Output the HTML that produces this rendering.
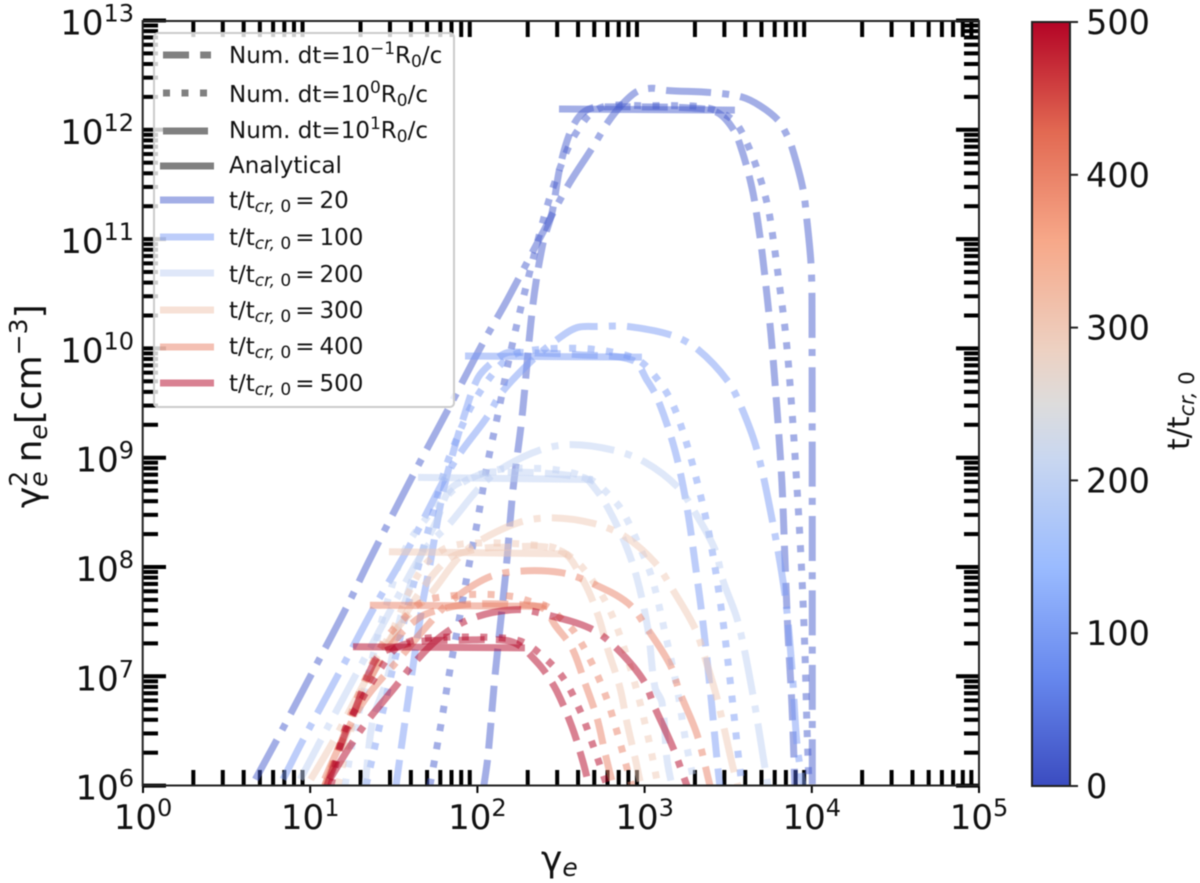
<!DOCTYPE html>
<html lang="en">
<head>
<meta charset="utf-8">
<title>Electron spectrum chart</title>
<style>
html,body{margin:0;padding:0;background:#fff;}
svg{display:block;font-family:"DejaVu Sans","Liberation Sans",sans-serif;filter:blur(0.5px);}
</style>
</head>
<body>
<svg id="chart" width="1200" height="883" viewBox="0 0 1200 883" xmlns="http://www.w3.org/2000/svg">
  <defs>
    <clipPath id="plot-clip"><rect x="143" y="21" width="836" height="764.5"/></clipPath>
    <linearGradient id="coolwarm-gradient" x1="0" y1="1" x2="0" y2="0">
      <stop offset="0" stop-color="#3b4cc0"/>
      <stop offset="0.143" stop-color="#6788ee"/>
      <stop offset="0.286" stop-color="#9abbff"/>
      <stop offset="0.429" stop-color="#c9d7f0"/>
      <stop offset="0.5" stop-color="#dddcdc"/>
      <stop offset="0.571" stop-color="#edd1c2"/>
      <stop offset="0.714" stop-color="#f7a889"/>
      <stop offset="0.857" stop-color="#e26952"/>
      <stop offset="1" stop-color="#b40426"/>
    </linearGradient>
  </defs>
  <g id="ticks-layer"></g>
  <g id="series-layer" clip-path="url(#plot-clip)"></g>
  <rect x="142.7" y="21" width="836.3" height="764.5" fill="none" stroke="#222" stroke-width="2"/>

  <g>
    <rect x="154" y="33" width="300" height="374" rx="4" fill="#fff" fill-opacity="0.8" stroke="#ccc" stroke-width="2"/>
    <g fill="none" stroke-width="7" stroke="#808080">
      <line x1="163" x2="211" y1="55" y2="55" stroke-dasharray="26 11.2"/>
      <line x1="163" x2="211" y1="93" y2="93" stroke-dasharray="7 11.5"/>
      <line x1="163" x2="208" y1="131" y2="131"/>
      <line x1="160" x2="214" y1="166" y2="166"/>
      <line x1="160" x2="214" y1="200" y2="200" stroke="#475dcd" stroke-opacity="0.5"/>
      <line x1="160" x2="214" y1="237" y2="237" stroke="#7b9cf5" stroke-opacity="0.5"/>
      <line x1="160" x2="214" y1="273" y2="273" stroke="#bfd0f3" stroke-opacity="0.5"/>
      <line x1="160" x2="214" y1="310" y2="310" stroke="#f0c3ad" stroke-opacity="0.5"/>
      <line x1="160" x2="214" y1="347" y2="347" stroke="#ea8268" stroke-opacity="0.5"/>
      <line x1="160" x2="214" y1="383" y2="383" stroke="#b40426" stroke-opacity="0.5"/>
    </g>
    <g font-size="23" fill="#111">
      <text x="229" y="63">Num. dt=10<tspan font-size="17" dy="-9">−1</tspan><tspan dy="9">R</tspan><tspan font-size="17" dy="4">0</tspan><tspan dy="-4">/c</tspan></text>
      <text x="229" y="102">Num. dt=10<tspan font-size="17" dy="-9">0</tspan><tspan dy="9">R</tspan><tspan font-size="17" dy="4">0</tspan><tspan dy="-4">/c</tspan></text>
      <text x="229" y="138">Num. dt=10<tspan font-size="17" dy="-9">1</tspan><tspan dy="9">R</tspan><tspan font-size="17" dy="4">0</tspan><tspan dy="-4">/c</tspan></text>
      <text x="229" y="173">Analytical</text>
      <text x="229" y="208">t/t<tspan font-size="17" dy="4" font-style="italic">cr,</tspan><tspan font-size="17"> 0</tspan><tspan dy="-4" dx="4">=</tspan><tspan dx="5">20</tspan></text>
      <text x="229" y="245">t/t<tspan font-size="17" dy="4" font-style="italic">cr,</tspan><tspan font-size="17"> 0</tspan><tspan dy="-4" dx="4">=</tspan><tspan dx="5">100</tspan></text>
      <text x="229" y="282">t/t<tspan font-size="17" dy="4" font-style="italic">cr,</tspan><tspan font-size="17"> 0</tspan><tspan dy="-4" dx="4">=</tspan><tspan dx="5">200</tspan></text>
      <text x="229" y="318">t/t<tspan font-size="17" dy="4" font-style="italic">cr,</tspan><tspan font-size="17"> 0</tspan><tspan dy="-4" dx="4">=</tspan><tspan dx="5">300</tspan></text>
      <text x="229" y="354">t/t<tspan font-size="17" dy="4" font-style="italic">cr,</tspan><tspan font-size="17"> 0</tspan><tspan dy="-4" dx="4">=</tspan><tspan dx="5">400</tspan></text>
      <text x="229" y="391">t/t<tspan font-size="17" dy="4" font-style="italic">cr,</tspan><tspan font-size="17"> 0</tspan><tspan dy="-4" dx="4">=</tspan><tspan dx="5">500</tspan></text>
    </g>
  </g>

  <g id="labels-layer" font-size="34" fill="#111"></g>

  <text x="541" y="871" font-size="36" fill="#111">γ<tspan font-size="25" font-style="italic" dy="5">e</tspan></text>
  <text transform="translate(41,508) rotate(-90)" font-size="36" fill="#111">γ<tspan font-size="25" dy="-14">2</tspan><tspan font-size="25" font-style="italic" dy="20" dx="-16">e</tspan><tspan dy="-6" dx="9">n</tspan><tspan font-size="25" font-style="italic" dy="6">e</tspan><tspan dy="-6">[cm</tspan><tspan font-size="25" dy="-14">−3</tspan><tspan dy="14">]</tspan></text>

  <g>
    <rect x="1032" y="22" width="38" height="764" fill="url(#coolwarm-gradient)" stroke="#222" stroke-width="2"/>
    <g id="colorbar-ticks" font-size="33.5" fill="#111"></g>
    <text transform="translate(1189,450) rotate(-90)" font-size="30" fill="#111">t/t<tspan font-size="21" font-style="italic" dy="5">cr,</tspan><tspan font-size="21"> 0</tspan></text>
  </g>
</svg>

<script>
// Tick values and labels
const xTickExps = [0, 1, 2, 3, 4, 5];
const yTickExps = [6, 7, 8, 9, 10, 11, 12, 13];
const minorMultipliers = [2, 3, 4, 5, 6, 7, 8, 9];
const colorbarTicks = [0, 100, 200, 300, 400, 500];

// All curve values are log10(gamma_e) and log10(gamma_e^2 n_e)
// Dash-dot curves: numerical dt = 10 R0/c
const g20dd = [0.652,0.801,1.011,1.220,1.357,1.615,1.824,2.033,2.177,2.374,2.542,2.685,2.781,2.864,2.954,3.044,3.134,3.403,3.582,3.690,3.797,3.845,3.881,3.947,3.971,3.995,4.001,4.003];
const n20dd = [6.00,6.42,7.03,7.64,8.07,8.84,9.44,10.05,10.44,11.01,11.49,11.83,12.07,12.23,12.35,12.38,12.36,12.34,12.30,12.22,12.09,11.97,11.84,11.46,11.17,10.78,10.44,6.00];
const g100dd = [0.819,0.951,1.166,1.375,1.597,1.794,1.896,2.057,2.147,2.326,2.476,2.595,2.721,2.900,3.163,3.319,3.498,3.582,3.672,3.767,3.839,3.881,3.911,3.947];
const n100dd = [6.00,6.40,7.01,7.61,8.20,8.78,9.04,9.37,9.60,9.89,10.08,10.19,10.20,10.20,10.12,9.99,9.70,9.45,9.07,8.40,7.75,7.08,6.39,6.00];
const g200dd = [0.921,1.058,1.268,1.525,1.686,1.836,2.003,2.135,2.374,2.565,2.811,3.002,3.199,3.301,3.421,3.468,3.558,3.648,3.720,3.738];
const n200dd = [6.00,6.40,7.00,7.73,8.16,8.40,8.71,8.89,9.07,9.12,9.07,8.96,8.73,8.50,8.16,7.88,7.50,6.83,6.16,6.00];
const g300dd = [0.981,1.136,1.357,1.537,1.728,1.878,2.003,2.254,2.452,2.691,2.882,3.062,3.169,3.301,3.361,3.433,3.528,3.558];
const n300dd = [6.00,6.40,7.03,7.47,7.77,8.07,8.23,8.41,8.45,8.40,8.28,8.04,7.79,7.44,7.17,6.80,6.17,6.00];
const g400dd = [1.070,1.178,1.328,1.555,1.704,1.836,2.057,2.237,2.494,2.673,2.900,3.014,3.151,3.211,3.313,3.391];
const n400dd = [6.00,6.37,6.79,7.20,7.47,7.68,7.90,7.96,7.95,7.86,7.67,7.44,7.11,6.85,6.47,6.00];
const g500dd = [1.094,1.238,1.346,1.507,1.627,1.794,1.985,2.237,2.422,2.673,2.817,2.990,3.062,3.169,3.253];
const n500dd = [6.00,6.36,6.60,6.90,7.13,7.38,7.54,7.61,7.56,7.44,7.28,6.97,6.71,6.35,6.00];

// Dotted curves: numerical dt = 1 R0/c
const g20dot = [1.716,1.782,1.836,1.896,1.955,1.997,2.057,2.123,2.189,2.266,2.404,2.470,2.553,2.607,2.679,2.781,3.002,3.223,3.337,3.439,3.534,3.594,3.678,3.738,3.773,3.803,3.845,3.881,3.917,3.941,3.959,3.971,3.983];
const n20dot = [6.00,6.56,7.06,7.56,8.06,8.39,8.92,9.40,9.90,10.41,11.23,11.55,11.87,12.01,12.15,12.22,12.22,12.22,12.21,12.17,12.08,11.94,11.62,11.29,10.96,10.62,10.11,9.44,8.59,7.91,7.22,6.55,6.00];
const g100dot = [1.334,1.489,1.597,1.716,1.806,1.878,1.967,2.093,2.183,2.272,2.482,2.703,2.924,3.014,3.145,3.229,3.319,3.391,3.462,3.516,3.564,3.582];
const n100dot = [6.00,7.04,7.72,8.39,8.89,9.18,9.48,9.77,9.91,9.97,10.00,9.99,9.92,9.83,9.56,9.24,8.75,8.26,7.58,6.90,6.23,6.00];
const g200dot = [1.208,1.250,1.310,1.369,1.447,1.567,1.686,1.866,1.967,2.063,2.177,2.392,2.506,2.613,2.709,2.793,2.864,2.960,3.044,3.122,3.193,3.247,3.301];
const n200dot = [6.00,6.37,6.79,7.15,7.61,8.16,8.43,8.72,8.82,8.87,8.90,8.90,8.88,8.84,8.77,8.65,8.52,8.22,7.90,7.40,6.90,6.40,6.00];
const g300dot = [1.166,1.268,1.357,1.495,1.597,1.686,1.794,1.908,2.123,2.344,2.452,2.542,2.631,2.757,2.846,2.948,3.026,3.080];
const n300dot = [6.00,6.65,7.06,7.43,7.79,8.02,8.16,8.21,8.22,8.20,8.18,8.11,7.99,7.71,7.40,6.90,6.41,6.00];
const g400dot = [1.088,1.208,1.328,1.447,1.567,1.656,1.764,1.985,2.213,2.326,2.416,2.506,2.583,2.691,2.775,2.841,2.900,2.924];
const n400dot = [6.00,6.51,6.97,7.33,7.54,7.67,7.72,7.75,7.73,7.68,7.64,7.52,7.40,7.10,6.79,6.46,6.13,6.00];
const g500dot = [1.124,1.208,1.316,1.429,1.507,1.597,1.704,1.926,2.153,2.260,2.356,2.506,2.613,2.691,2.775];
const n500dot = [6.00,6.51,6.81,7.09,7.25,7.32,7.35,7.36,7.35,7.32,7.23,7.00,6.69,6.37,6.00];

// Dashed curves: numerical dt = 0.1 R0/c
const g20dash = [2.039,2.063,2.105,2.171,2.213,2.266,2.332,2.392,2.446,2.494,2.553,2.613,2.685,2.793,2.972,3.271,3.433,3.528,3.582,3.642,3.678,3.708,3.755,3.791,3.821,3.839,3.857,3.881,3.899];
const n20dash = [6.00,6.27,7.00,7.97,8.71,9.36,10.40,10.96,11.24,11.66,11.97,12.13,12.20,12.21,12.21,12.20,12.16,12.01,11.81,11.47,11.15,10.81,10.14,9.46,8.78,8.09,7.41,6.74,6.00];
const g100dash = [1.513,1.573,1.668,1.716,1.788,1.848,1.926,2.003,2.087,2.177,2.296,2.631,2.930,3.014,3.080,3.181,3.253,3.313,3.349,3.391,3.433,3.450];
const n100dash = [6.00,6.65,7.63,8.02,8.64,9.01,9.41,9.73,9.87,9.96,9.96,9.94,9.89,9.71,9.53,9.07,8.55,7.91,7.49,6.90,6.24,6.00];
const g200dash = [1.328,1.375,1.459,1.537,1.609,1.686,1.758,1.836,1.973,2.093,2.631,2.703,2.781,2.882,2.954,3.020,3.062,3.104,3.134,3.163];
const n200dash = [6.00,6.60,6.97,7.52,7.88,8.20,8.43,8.71,8.82,8.87,8.82,8.72,8.54,8.22,7.90,7.43,6.90,6.76,6.24,6.00];
const g300dash = [1.100,1.316,1.567,1.806,1.955,2.135,2.494,2.631,2.721,2.781,2.852,2.894,2.942,2.978];
const n300dash = [6.00,6.83,7.56,8.05,8.15,8.18,8.15,7.88,7.56,7.24,6.90,6.58,6.26,6.00];
const g400dash = [1.088,1.238,1.387,1.507,1.656,1.776,1.955,2.314,2.404,2.464,2.565,2.643,2.715,2.763,2.811];
const n400dash = [6.00,6.60,7.06,7.33,7.54,7.61,7.66,7.65,7.61,7.47,7.26,6.94,6.62,6.30,6.00];
const g500dash = [1.100,1.208,1.268,1.346,1.417,1.519,1.656,1.896,2.165,2.254,2.344,2.404,2.476,2.565,2.631,2.667];
const n500dash = [6.00,6.47,6.69,7.01,7.20,7.27,7.32,7.33,7.33,7.28,7.15,7.04,6.86,6.54,6.22,6.00];

// Analytical plateaus
const g20an = [2.488,3.540];
const n20an = [12.19,12.18];
const g100an = [1.926,2.984];
const n100an = [9.93,9.92];
const g200an = [1.645,2.691];
const n200an = [8.82,8.80];
const g300an = [1.471,2.536];
const n300an = [8.14,8.12];
const g400an = [1.357,2.416];
const n400an = [7.65,7.64];
const g500an = [1.256,2.284];
const n500an = [7.27,7.26];

const seriesList = [
  [20,'dash',g20dash,n20dash],[20,'dot',g20dot,n20dot],[20,'dd',g20dd,n20dd],[20,'an',g20an,n20an],
  [100,'dash',g100dash,n100dash],[100,'dot',g100dot,n100dot],[100,'dd',g100dd,n100dd],[100,'an',g100an,n100an],
  [200,'dash',g200dash,n200dash],[200,'dot',g200dot,n200dot],[200,'dd',g200dd,n200dd],[200,'an',g200an,n200an],
  [300,'dash',g300dash,n300dash],[300,'dot',g300dot,n300dot],[300,'dd',g300dd,n300dd],[300,'an',g300an,n300an],
  [400,'dash',g400dash,n400dash],[400,'dot',g400dot,n400dot],[400,'dd',g400dd,n400dd],[400,'an',g400an,n400an],
  [500,'dash',g500dash,n500dash],[500,'dot',g500dot,n500dot],[500,'dd',g500dd,n500dd],[500,'an',g500an,n500an]
];

const NS = 'http://www.w3.org/2000/svg';
function xScale(v){ return 143 + v * 167.2; }
function yScale(v){ return 785.6 - (v - 6) * 109.3; }
function cbarScale(v){ return 786 - v / 500 * 764; }

const cmapPos = [0,0.143,0.286,0.429,0.5,0.571,0.714,0.857,1];
const cmapRGB = [[59,76,192],[103,136,238],[154,187,255],[201,215,240],[221,220,220],[237,209,194],[247,168,137],[226,105,82],[180,4,38]];
function coolwarm(f){
  let i = 0;
  while (i < cmapPos.length - 2 && f > cmapPos[i + 1]) i++;
  const k = (f - cmapPos[i]) / (cmapPos[i + 1] - cmapPos[i]);
  const c = cmapRGB[i].map((a, j) => Math.round(a + (cmapRGB[i + 1][j] - a) * k));
  return 'rgb(' + c.join(',') + ')';
}

// Smooth path through the scaled points; handle length is a third of each segment.
function smoothPath(xs, ys) {
  const n = xs.length;
  function tangent(i) {
    const a = Math.max(i - 1, 0);
    const b = Math.min(i + 1, n - 1);
    const dx = xs[b] - xs[a];
    const dy = ys[b] - ys[a];
    const len = Math.hypot(dx, dy) || 1;
    return [dx / len, dy / len];
  }
  let d = 'M' + xs[0].toFixed(2) + ' ' + ys[0].toFixed(2);
  for (let i = 0; i < n - 1; i++) {
    const seg = Math.hypot(xs[i + 1] - xs[i], ys[i + 1] - ys[i]) / 3;
    const t0 = tangent(i);
    const t1 = tangent(i + 1);
    d += ' C' + (xs[i] + t0[0] * seg).toFixed(2) + ' ' + (ys[i] + t0[1] * seg).toFixed(2) +
         ' ' + (xs[i + 1] - t1[0] * seg).toFixed(2) + ' ' + (ys[i + 1] - t1[1] * seg).toFixed(2) +
         ' ' + xs[i + 1].toFixed(2) + ' ' + ys[i + 1].toFixed(2);
  }
  return d;
}

const dashStyles = { dash: '26 11.2', dot: '7 11.5', dd: '45 11.2 7 11.2', an: 'none' };

const seriesLayer = document.getElementById('series-layer');
seriesList.forEach(function (s) {
  const d = smoothPath(s[2].map(xScale), s[3].map(yScale));
  const p = document.createElementNS(NS, 'path');
  p.setAttribute('d', d);
  p.setAttribute('fill', 'none');
  p.setAttribute('stroke', coolwarm(s[0] / 500));
  p.setAttribute('stroke-opacity', '0.5');
  p.setAttribute('stroke-width', '7');
  if (dashStyles[s[1]] !== 'none') p.setAttribute('stroke-dasharray', dashStyles[s[1]]);
  if (s[1] === 'dd') p.setAttribute('stroke-dashoffset', '-7');
  
  
  seriesLayer.appendChild(p);
});

const ticksLayer = document.getElementById('ticks-layer');
function addTick(x1, y1, x2, y2, w, name) {
  const l = document.createElementNS(NS, 'line');
  l.setAttribute('x1', x1);
  l.setAttribute('y1', y1);
  l.setAttribute('x2', x2);
  l.setAttribute('y2', y2);
  l.setAttribute('stroke', '#000');
  l.setAttribute('stroke-width', w);
  
  
  ticksLayer.appendChild(l);
}

xTickExps.forEach(function (e) {
  const px = xScale(e);
  addTick(px, 785, px, 793, 2, 'x-major-tick');
  if (e < 5) {
    minorMultipliers.forEach(function (m) {
      const mx = xScale(e + Math.log10(m));
      addTick(mx, 785, mx, 770, 4, 'x-minor-tick-bottom');
      addTick(mx, 21, mx, 37, 4, 'x-minor-tick-top');
    });
  }
});
yTickExps.forEach(function (e) {
  const py = yScale(e);
  addTick(143, py, 166, py, 4, 'y-major-tick-left');
  addTick(979, py, 956, py, 4, 'y-major-tick-right');
  if (e < 13) {
    minorMultipliers.forEach(function (m) {
      const my = yScale(e + Math.log10(m));
      addTick(143, my, 158, my, 4, 'y-minor-tick-left');
      addTick(979, my, 964, my, 4, 'y-minor-tick-right');
    });
  }
});

const labelsLayer = document.getElementById('labels-layer');
function addPowerLabel(x, y, anchor, exp, name) {
  const t = document.createElementNS(NS, 'text');
  t.setAttribute('x', x);
  t.setAttribute('y', y);
  t.setAttribute('text-anchor', anchor);
  
  
  t.textContent = '10';
  const sup = document.createElementNS(NS, 'tspan');
  sup.setAttribute('font-size', '24');
  sup.setAttribute('dy', '-13');
  sup.textContent = String(exp);
  t.appendChild(sup);
  labelsLayer.appendChild(t);
}
xTickExps.forEach(function (e) {
  addPowerLabel(xScale(e), 829, 'middle', e, 'x-tick-label');
});
yTickExps.forEach(function (e) {
  addPowerLabel(134, yScale(e) + 14, 'end', e, 'y-tick-label');
});

const cbarTicks = document.getElementById('colorbar-ticks');
colorbarTicks.forEach(function (v) {
  const py = cbarScale(v);
  const l = document.createElementNS(NS, 'line');
  l.setAttribute('x1', 1070);
  l.setAttribute('x2', 1078);
  l.setAttribute('y1', py);
  l.setAttribute('y2', py);
  l.setAttribute('stroke', '#222');
  l.setAttribute('stroke-width', '2');
  
  
  cbarTicks.appendChild(l);
  const t = document.createElementNS(NS, 'text');
  t.setAttribute('x', 1086);
  t.setAttribute('y', py + 12);
  
  
  t.textContent = String(v);
  cbarTicks.appendChild(t);
});
</script>
</body>
</html>
